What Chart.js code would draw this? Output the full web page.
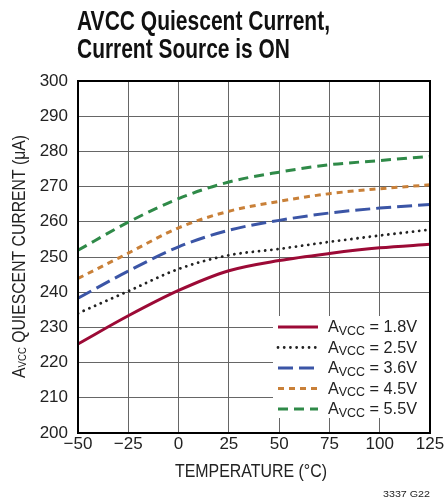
<!DOCTYPE html>
<html><head><meta charset="utf-8">
<script src="https://cdn.jsdelivr.net/npm/chart.js@4"></script>
<style>html,body{margin:0;padding:0;background:#fff}#wrap{width:446px;height:504px;position:relative}</style>
</head><body><div id="wrap"><canvas id="c" width="446" height="504"></canvas></div>
<script>
// ---- data ----
const temperatures = [-50, -25, 0, 25, 50, 75, 100, 125];
const avcc18 = [225.3, 233.3, 240.5, 246.1, 249.0, 251.0, 252.6, 253.6];
const avcc25 = [234.0, 240.3, 246.6, 250.5, 252.3, 254.3, 256.1, 257.8];
const avcc36 = [238.3, 246.0, 252.9, 257.6, 260.4, 262.5, 263.9, 264.9];
const avcc45 = [243.9, 251.1, 258.3, 263.0, 265.8, 268.0, 269.4, 270.5];
const avcc55 = [251.9, 259.9, 266.6, 271.3, 274.1, 276.2, 277.4, 278.6];
const seriesLabels = ['1.8V', '2.5V', '3.6V', '4.5V', '5.5V'];
const xTicks = [-50, -25, 0, 25, 50, 75, 100, 125];
const yTicks = [200, 210, 220, 230, 240, 250, 260, 270, 280, 290, 300];
const titleLines = ['AVCC Quiescent Current,', 'Current Source is ON'];
const xTitle = 'TEMPERATURE (°C)';
const yTitleParts = ['A', 'VCC', ' QUIESCENT CURRENT (μA)'];
const footnote = '3337 G22';

const FONT = "'Liberation Sans', Arial, Helvetica, sans-serif";

const styles = [
  {color: '#9c0a36', width: 3, dash: [], cap: 'butt'},
  {color: '#222222', width: 2.8, dash: [0.01, 6.2], cap: 'round'},
  {color: '#3b55a6', width: 3, dash: [15, 6], cap: 'butt'},
  {color: '#c98038', width: 3, dash: [6, 5], cap: 'butt'},
  {color: '#2f8a48', width: 3, dash: [10, 6], cap: 'butt'}
];
const seriesValues = [avcc18, avcc25, avcc36, avcc45, avcc55];

const datasets = seriesValues.map((vals, i) => ({
  label: 'AVCC = ' + seriesLabels[i],
  data: temperatures.map((t, j) => ({x: t, y: vals[j]})),
  borderColor: styles[i].color,
  borderWidth: styles[i].width,
  borderDash: styles[i].dash,
  borderCapStyle: styles[i].cap,
  pointRadius: 0,
  fill: false,
  cubicInterpolationMode: 'monotone'
}));

function drawRuns(ctx, runs, x, y, targetWidth) {
  let total = 0;
  runs.forEach(r => { ctx.font = r.font; r.w = ctx.measureText(r.text).width; total += r.w; });
  const s = targetWidth / total;
  ctx.save();
  ctx.translate(x, y);
  ctx.scale(s, 1);
  ctx.textBaseline = 'alphabetic';
  ctx.textAlign = 'left';
  let cx = 0;
  runs.forEach(r => { ctx.font = r.font; ctx.fillText(r.text, cx, r.dy || 0); cx += r.w; });
  ctx.restore();
}

const decor = {
  id: 'decor',
  afterDatasetsDraw(chart) {
    const ctx = chart.ctx;
    ctx.save();
    ctx.fillStyle = '#fff';
    ctx.fillRect(273, 316, 156, 102);
    chart.data.datasets.forEach((ds, i) => {
      const yl = 327 + i * 20.5;
      ctx.beginPath();
      ctx.setLineDash(ds.borderDash);
      ctx.lineCap = ds.borderCapStyle;
      ctx.lineWidth = ds.borderWidth;
      ctx.strokeStyle = ds.borderColor;
      ctx.moveTo(278, yl);
      ctx.lineTo(318, yl);
      ctx.stroke();
      ctx.setLineDash([]);
      ctx.fillStyle = '#222';
      drawRuns(ctx, [
        {text: 'A', font: '17px ' + FONT},
        {text: 'VCC', font: '13px ' + FONT, dy: 2.7},
        {text: ' = ' + seriesLabels[i], font: '17px ' + FONT}
      ], 328, 332 + i * 20.5, 89);
    });
    ctx.restore();
  },
  afterDraw(chart) {
    const ctx = chart.ctx;
    const a = chart.chartArea;
    ctx.save();
    ctx.strokeStyle = '#000';
    ctx.lineWidth = 2;
    ctx.strokeRect(a.left, a.top, a.right - a.left, a.bottom - a.top);
    ctx.fillStyle = '#111';
    drawRuns(ctx, [{text: titleLines[0], font: 'bold 27px ' + FONT}], 77, 30, 253);
    drawRuns(ctx, [{text: titleLines[1], font: 'bold 27px ' + FONT}], 77, 58, 213);
    ctx.fillStyle = '#222';
    drawRuns(ctx, [{text: xTitle, font: '19px ' + FONT}], 175, 477, 152);
    drawRuns(ctx, [{text: footnote, font: '9.5px ' + FONT}], 383, 497, 47);
    ctx.save();
    ctx.translate(25, 378);
    ctx.rotate(-Math.PI / 2);
    drawRuns(ctx, [
      {text: yTitleParts[0], font: '18px ' + FONT},
      {text: yTitleParts[1], font: '11px ' + FONT, dy: 0.5},
      {text: yTitleParts[2], font: '18px ' + FONT}
    ], 0, 0, 243);
    ctx.restore();
    ctx.restore();
  }
};

new Chart(document.getElementById('c'), {
  type: 'line',
  data: {datasets},
  options: {
    responsive: false,
    animation: false,
    devicePixelRatio: 1,
    layout: {padding: {left: 0, right: 16, top: 81, bottom: 0}},
    plugins: {legend: {display: false}, tooltip: {enabled: false}, title: {display: false}},
    scales: {
      x: {
        type: 'linear', min: -50, max: 125,
        afterBuildTicks: s => { s.ticks = xTicks.map(v => ({value: v})); },
        afterFit: s => { s.height = 71; },
        ticks: {
          callback: v => String(v).replace('-', '\u2212'),
          font: {family: FONT, size: 17}, color: '#222', padding: 1,
          maxRotation: 0, autoSkip: false
        },
        grid: {color: '#666', lineWidth: 1, drawTicks: false},
        border: {display: true, color: '#000', width: 2}
      },
      y: {
        type: 'linear', min: 200, max: 300,
        afterBuildTicks: s => { s.ticks = yTicks.map(v => ({value: v})); },
        afterFit: s => { s.width = 78; },
        ticks: {font: {family: FONT, size: 17}, color: '#222', padding: 10, autoSkip: false},
        grid: {color: '#666', lineWidth: 1, drawTicks: false},
        border: {display: true, color: '#000', width: 2}
      }
    }
  },
  plugins: [decor]
});
</script></body></html>
